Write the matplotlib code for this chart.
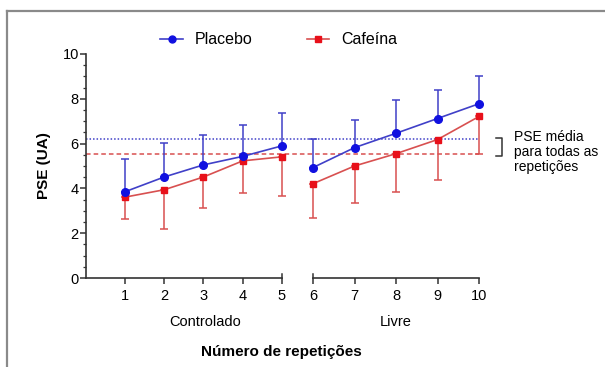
import matplotlib
matplotlib.use('Agg')
import matplotlib.pyplot as plt
import matplotlib.transforms as mtransforms
from matplotlib.lines import Line2D
import numpy as np

plt.rcParams['font.family'] = ['Liberation Sans', 'DejaVu Sans']

# repetitions, split into two phases
reps_ctrl = [1, 2, 3, 4, 5]
reps_livre = [6, 7, 8, 9, 10]

# PSE means and SD (placebo shown upward, cafeina downward)
placebo = [3.85, 4.51, 5.05, 5.43, 5.90, 4.93, 5.82, 6.46, 7.12, 7.78]
placebo_sd = [1.45, 1.52, 1.35, 1.38, 1.48, 1.27, 1.23, 1.47, 1.29, 1.25]
cafeina = [3.61, 3.94, 4.51, 5.23, 5.41, 4.21, 5.00, 5.55, 6.18, 7.21]
cafeina_sd = [0.99, 1.77, 1.38, 1.42, 1.74, 1.54, 1.63, 1.70, 1.80, 1.68]

# mean PSE over all repetitions (reference lines)
pse_media = {'Placebo': 6.2, 'Cafeína': 5.53}

blue = '#1010e0'
blue_line = '#4040c8'
red = '#e8101a'
red_line = '#d85050'
axc = '#333333'

W, H = 605, 367
fig = plt.figure(figsize=(W / 100, H / 100), dpi=100)

# frame of the original document figure
fig.add_artist(Line2D([7 / W, 7 / W], [0, 1 - 11 / H], color='#8a8a8a', lw=1.6))
fig.add_artist(Line2D([7 / W, 1], [1 - 11 / H, 1 - 11 / H], color='#8a8a8a', lw=1.6))

y0 = 1 - 278 / H
h = (278 - 54) / H
left = [85.7 / W, y0, (282 - 85.7) / W, h]
right = [313 / W, y0, (479 - 313) / W, h]

# background axes for the reference lines across both panels
axbg = fig.add_axes([85.7 / W, y0, (479 - 85.7) / W, h])
axbg.set_xlim(0, 1)
axbg.set_ylim(0, 10)
axbg.axis('off')
axbg.axhline(pse_media['Placebo'], color=blue_line, lw=1.1, ls=(0, (1, 1.3)))
axbg.axhline(pse_media['Cafeína'], color=red_line, lw=1.1, ls=(0, (3, 2)))

ax1 = fig.add_axes(left)
ax2 = fig.add_axes(right)

n = len(reps_ctrl)
for ax, xs, sl in [(ax1, reps_ctrl, slice(0, n)), (ax2, reps_livre, slice(n, None))]:
    ax.set_facecolor('none')
    p = np.array(placebo[sl])
    psd = np.array(placebo_sd[sl])
    c = np.array(cafeina[sl])
    csd = np.array(cafeina_sd[sl])
    ax.errorbar(xs, c, yerr=[csd, np.zeros_like(csd)], color=red_line, lw=1.2,
                elinewidth=1.1, capsize=3, capthick=1.1, marker='s', ms=5,
                mfc=red, mec=red, clip_on=False, zorder=3)
    ax.errorbar(xs, p, yerr=[np.zeros_like(psd), psd], color=blue_line, lw=1.2,
                elinewidth=1.1, capsize=3, capthick=1.1, marker='o', ms=5.5,
                mfc=blue, mec=blue, clip_on=False, zorder=4)
    ax.set_ylim(0, 10)
    ax.set_xticks(xs)
    ax.tick_params(axis='x', colors=axc, labelcolor='black', labelsize=10.5,
                   length=4, width=1.1, pad=4)
    for s in ['top', 'right']:
        ax.spines[s].set_visible(False)
    ax.spines['bottom'].set_color(axc)
    ax.spines['bottom'].set_linewidth(1.2)

ax1.set_xlim(0, 5)
ax2.set_xlim(6, 10)
ax2.spines['left'].set_visible(False)
ax2.set_yticks([])

ax1.set_yticks([0, 2, 4, 6, 8, 10])
ax1.set_yticks(np.arange(0, 10.01, 0.5), minor=True)
ax1.tick_params(axis='y', which='major', colors=axc, labelcolor='black',
                labelsize=10.5, length=4, width=1.1, pad=1)
ax1.tick_params(axis='y', which='minor', colors=axc, length=2.5, width=0.9)
ax1.spines['left'].set_color(axc)
ax1.spines['left'].set_linewidth(1.2)

# end caps on the broken x axis
for ax, xe in [(ax1, 5), (ax2, 6)]:
    tr = mtransforms.blended_transform_factory(ax.transData, ax.transAxes)
    ax.plot([xe, xe], [0, 0.02], color=axc, lw=1.1, transform=tr, clip_on=False)

ax1.set_ylabel('PSE (UA)', fontsize=11, fontweight='bold', labelpad=8)

fig.text(205 / W, 1 - 322 / H, 'Controlado', ha='center', va='center', fontsize=10.5)
fig.text(396 / W, 1 - 322 / H, 'Livre', ha='center', va='center', fontsize=10.5)
fig.text(281 / W, 1 - 352 / H, 'Número de repetições', ha='center', va='center',
         fontsize=11, fontweight='bold')

# bracket and note on the mean lines
fig.add_artist(Line2D([496 / W, 502 / W, 502 / W, 496 / W],
                      [1 - 138 / H, 1 - 138 / H, 1 - 156 / H, 1 - 156 / H],
                      color=axc, lw=1.1))
fig.text(514 / W, 1 - 152 / H, 'PSE média\npara todas as\nrepetições',
         ha='left', va='center', fontsize=10, linespacing=1.1)

handles = [Line2D([], [], color=blue_line, marker='o', ms=5, mfc=blue, mec=blue, lw=1.2),
           Line2D([], [], color=red_line, marker='s', ms=5, mfc=red, mec=red, lw=1.2)]
fig.legend(handles, list(pse_media.keys()), loc='center left',
           bbox_to_anchor=(146 / W, 1 - 40 / H), ncol=2, frameon=False,
           fontsize=11.5, handlelength=1.4, handletextpad=0.75, columnspacing=3.4)

fig.savefig('out.png', dpi=100)
